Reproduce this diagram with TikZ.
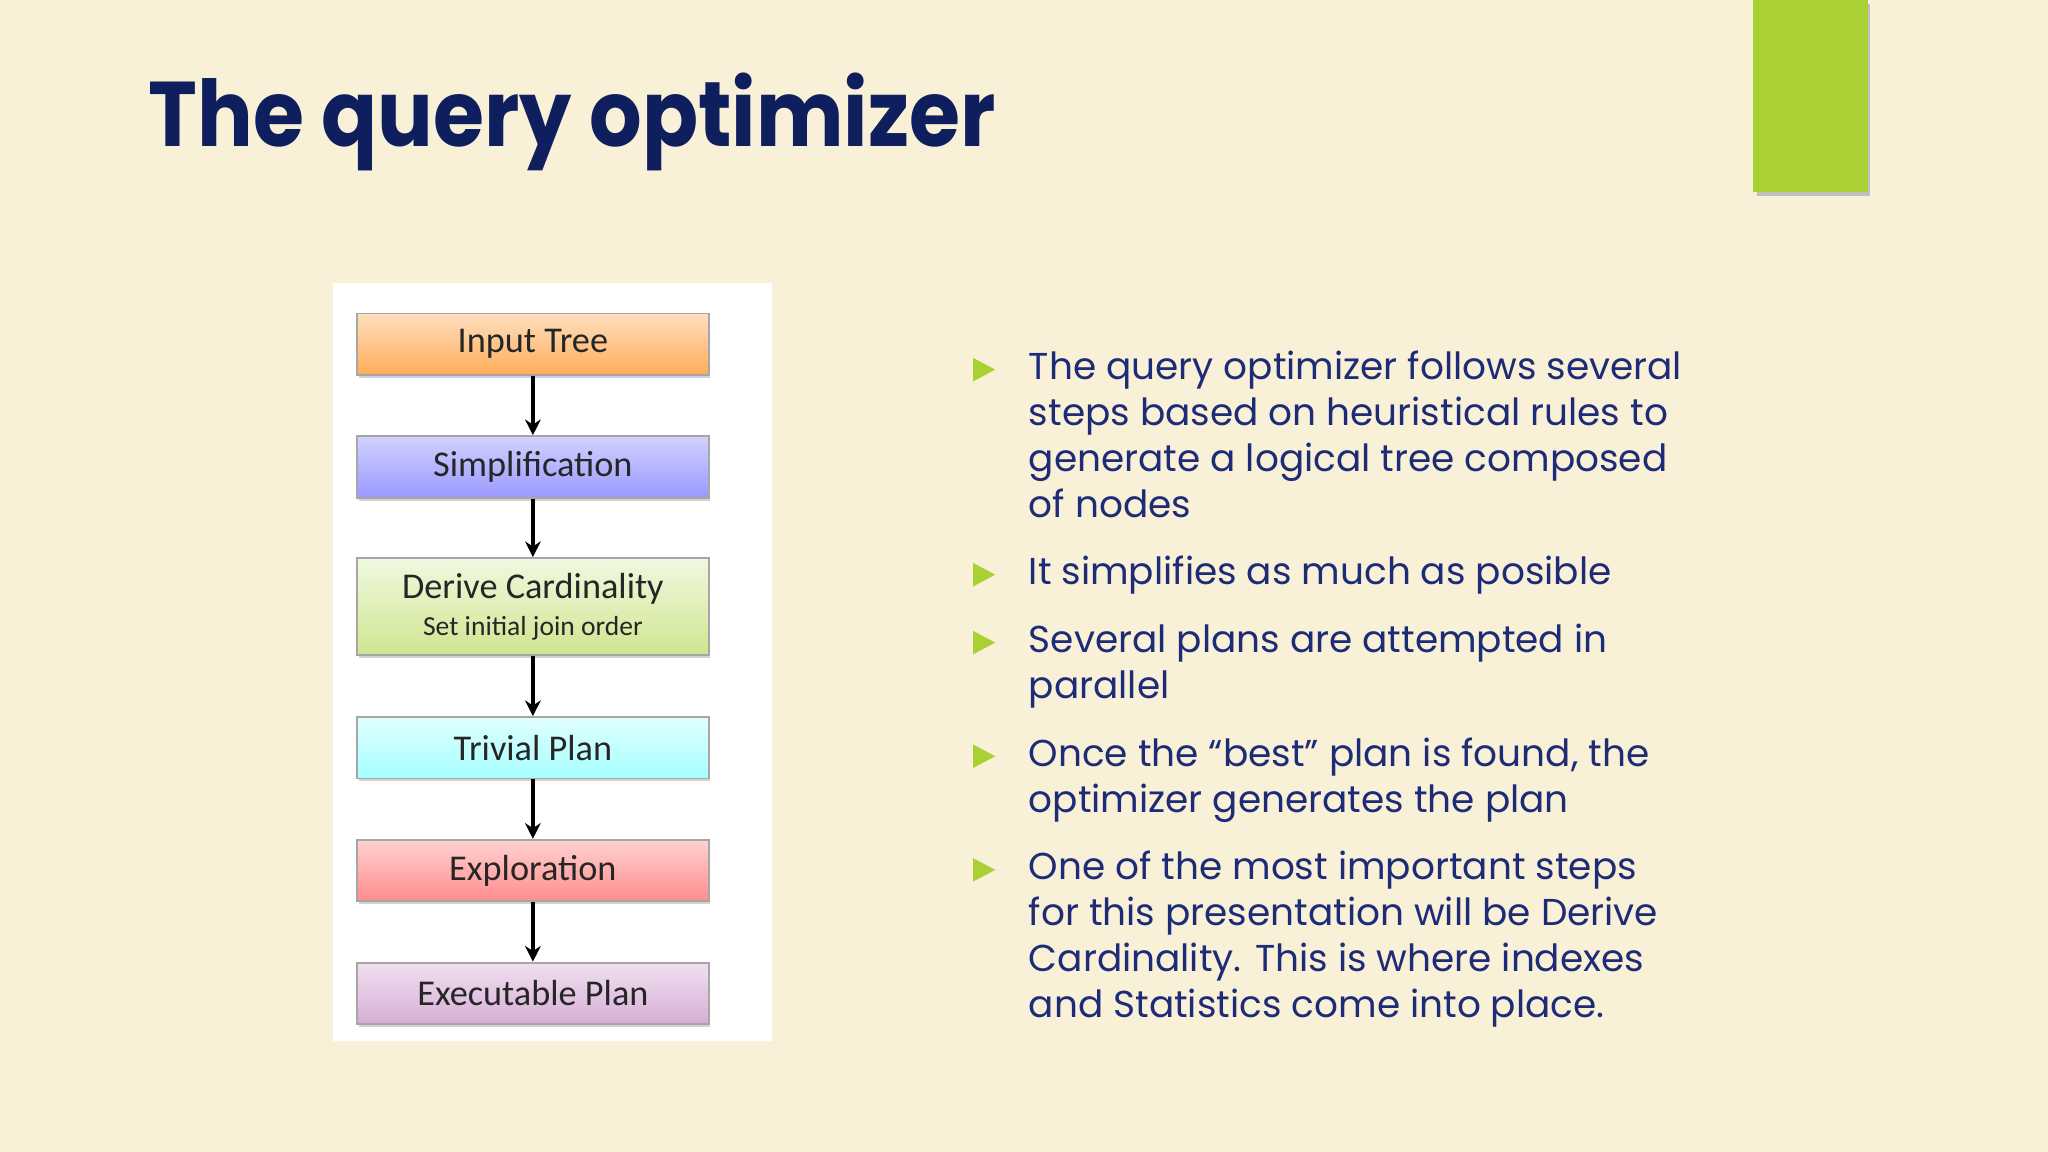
\documentclass[tikz,border=0pt]{standalone}
\usepackage{fontspec}
\setmainfont{Poppins}
\newfontfamily\boxfont{Carlito}
\usetikzlibrary{arrows.meta,shadows}
\definecolor{bg}{HTML}{F9F1D7}
\definecolor{navy}{HTML}{0F1F5E}
\definecolor{body}{HTML}{1E2C78}
\definecolor{lime}{HTML}{A9D134}
\tikzset{
  stepbox/.style 2 args={draw=gray!70, line width=0.4pt, minimum width=2.69cm, minimum height=0.47cm,
    top color=#1, bottom color=#2, font=\boxfont\fontsize{7.9}{9}\selectfont, text=black!85,
    drop shadow={shadow xshift=0.3pt, shadow yshift=-0.6pt, opacity=0.35}},
  conn/.style={-{Stealth[length=1.2mm,width=1.2mm]}, line width=0.9pt, black},
  bul/.style={anchor=north west, text=body, font=\fontsize{8.15}{10}\selectfont, align=left, inner sep=0pt},
  tri/.style={fill=lime, draw=none}
}
\begin{document}
\begin{tikzpicture}[x=0.01cm,y=-0.01cm]
\fill[bg] (0,0) rectangle (1568,882);
\useasboundingbox (0,0) rectangle (1568,882);
\fill[black!25] (1345,3) rectangle (1432,150);
\fill[lime] (1342,0) rectangle (1430,147);
\node[anchor=base west, text=navy, font=\fontsize{20}{24}\selectfont\bfseries, inner sep=0pt, xscale=0.9] (title) at (113,112) {The query optimizer};
\fill[white] (255,217) rectangle (591,797);
\node[stepbox={orange!25}{orange!65}] (a) at (408,263.5) {Input Tree};
\node[stepbox={blue!18}{blue!40}] (b) at (408,357.5) {Simplification};
\node[stepbox={green!10!lime!15}{lime!55}, minimum height=0.73cm, align=center] (c) at (408,464.5) {Derive Cardinality\\[-1pt]{\fontsize{6}{7}\selectfont Set initial join order}};
\node[stepbox={cyan!12}{cyan!35}] (d) at (408,572.5) {Trivial Plan};
\node[stepbox={red!18}{red!45}] (e) at (408,666.5) {Exploration};
\node[stepbox={violet!12}{violet!32}] (f) at (408,760.5) {Executable Plan};
\foreach \u/\v in {a/b,b/c,c/d,d/e,e/f} \draw[conn] (\u) -- (\v);
\foreach \y in {283,440,492,579,666} \fill[tri] (745,\y-9) -- (762,\y) -- (745,\y+9) -- cycle;
\node[bul] (t1) at (787,268) {The query optimizer follows several\\steps based on heuristical rules to\\generate a logical tree composed\\of nodes};
\node[bul] (t2) at (787,425) {It simplifies as much as posible};
\node[bul] (t3) at (787,477) {Several plans are attempted in\\parallel};
\node[bul] (t4) at (787,564) {Once the “best” plan is found, the\\optimizer generates the plan};
\node[bul] (t5) at (787,651) {One of the most important steps\\for this presentation will be Derive\\Cardinality. This is where indexes\\and Statistics come into place.};
\end{tikzpicture}
\end{document}
